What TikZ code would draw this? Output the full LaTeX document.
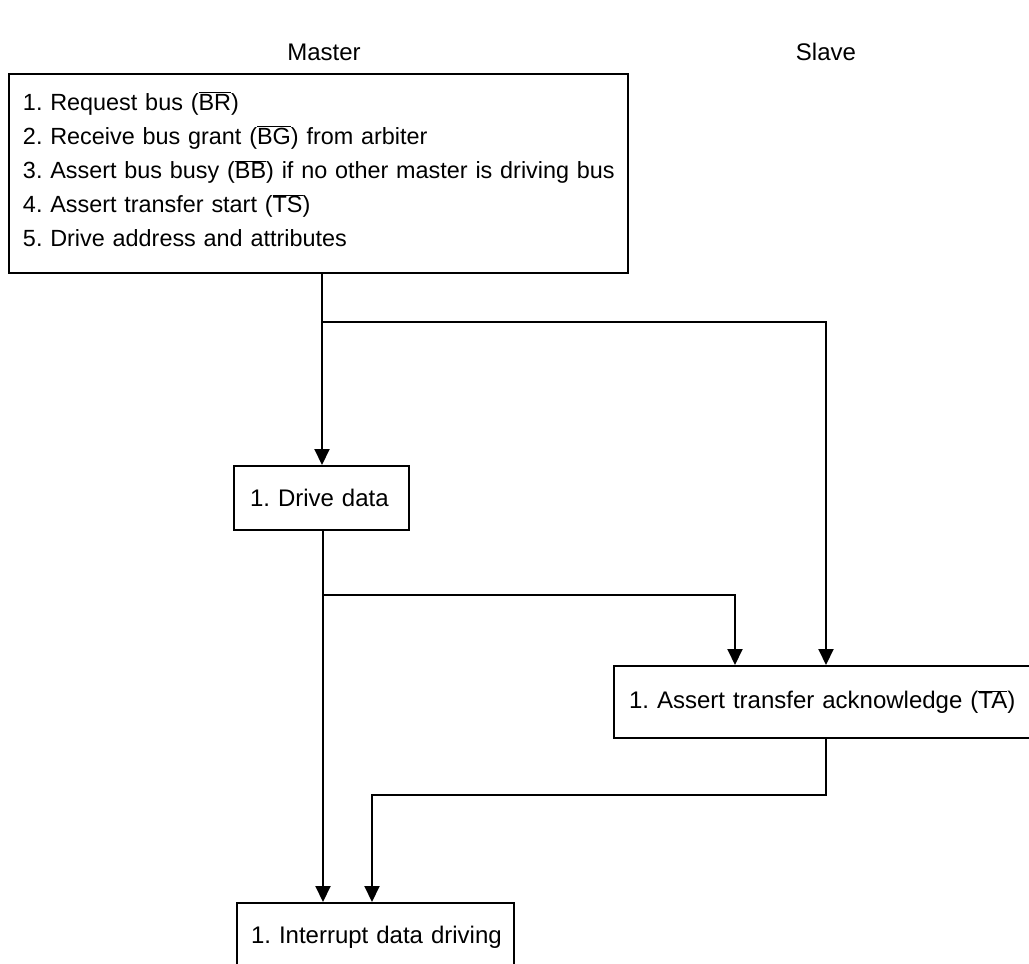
\documentclass[tikz,border=0pt]{standalone}
\usepackage{fontspec}
\setmainfont{Liberation Sans}
\usetikzlibrary{arrows.meta}
\newcommand{\ovl}[1]{\ensuremath{\overline{\hbox{#1}}}}
\begin{document}
\frenchspacing
\begin{tikzpicture}[x=1pt,y=-1pt,
  every node/.style={font=\fontsize{24}{34}\selectfont\frenchspacing},
  box/.style={draw, line width=2pt, anchor=north west, align=left, inner ysep=0pt},
  conn/.style={line width=2pt},
  arr/.style={conn, -{Triangle[width=15pt,length=16pt]}}]
\clip (0,0) rectangle (1029,964);
\fill[white] (0,0) rectangle (1029,964);
\node (master) at (324,52) {Master};
\node (slave) at (826,52) {Slave};
\node[box, inner xsep=14pt, text width=591pt, minimum height=199pt,
      font=\fontsize{23.4}{34.2}\selectfont\frenchspacing] (top) at (8,73)
 {\mbox{1. Request bus (\ovl{BR})}\\
  \mbox{2. Receive bus grant (\ovl{BG}) from arbiter}\\
  \mbox{3. Assert bus busy (\ovl{BB}) if no other master is driving bus}\\
  \mbox{4. Assert transfer start (\ovl{TS})}\\
  \mbox{5. Drive address and attributes\rule[-8pt]{0pt}{8pt}}};
\node[box, inner xsep=16pt, text width=143pt, minimum height=64pt] (drive) at (233,465) {\mbox{1. Drive data}};
\node[box, inner xsep=15pt, text width=400pt, minimum height=72pt] (ta) at (613,665) {\mbox{1. Assert transfer acknowledge (\ovl{TA})}};
\node[box, inner xsep=14pt, text width=249pt, minimum height=68pt] (intr) at (236,902) {\mbox{1. Interrupt data driving}};
\coordinate (s1) at (322,272);
\coordinate (b1) at (322,322);
\coordinate (s2) at (323,529);
\coordinate (b2) at (323,595);
\coordinate (s3) at (826,737);
\draw[arr] (s1) -- (s1 |- drive.north);
\draw[arr] (b1) -| (826,665) coordinate (e1);
\draw[arr] (s2) -- (s2 |- intr.north);
\draw[arr] (b2) -| (735,665) coordinate (e2);
\draw[arr] (s3) |- (372,795) -- (372,902) coordinate (e3);
\end{tikzpicture}
\end{document}
